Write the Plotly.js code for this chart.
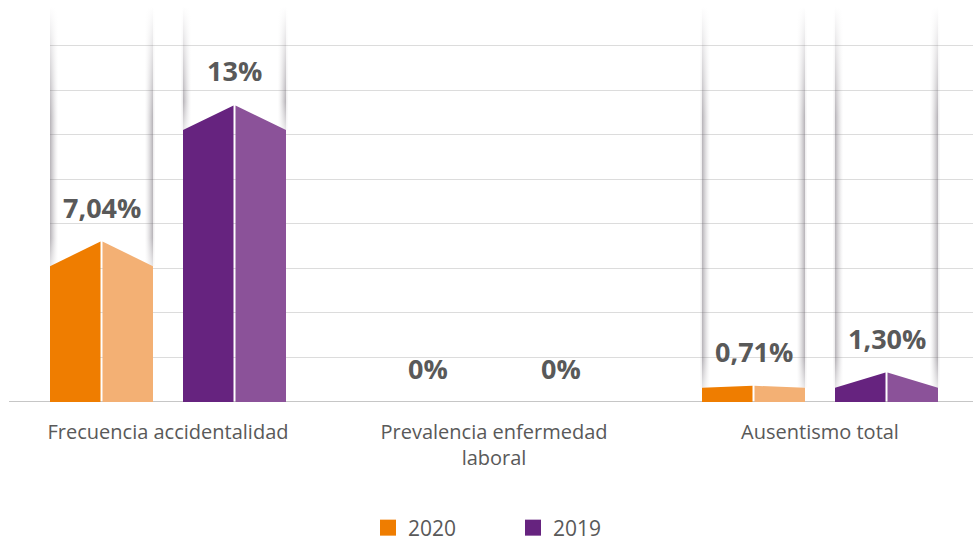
<!DOCTYPE html>
<html>
<head>
<meta charset="utf-8">
<script src="https://cdn.plot.ly/plotly-3.0.1.min.js"></script>
<style>
  html, body { margin: 0; padding: 0; background: #ffffff; }
  #chart { width: 973px; height: 543px; }
</style>
</head>
<body>
<div id="chart"></div>
<script>
// Indicator categories (x axis) and the two yearly series, in percent
const categories = ['Frecuencia accidentalidad', 'Prevalencia enfermedad<br>laboral', 'Ausentismo total'];
const values2020 = [7.04, 0, 0.71];
const values2019 = [13, 0, 1.30];
const labels2020 = ['7,04%', '0%', '0,71%'];
const labels2019 = ['13%', '0%', '1,30%'];
const seriesNames = ['2020', '2019'];

// ---- geometry / style ----
const W = 973, H = 543;
const M = { l: 50, r: 0, t: 2, b: 141, autoexpand: false };
const X_RANGE = [-0.36196, 2.46933];
const Y_RANGE = [0, 17.505];
const PLOT_W = W - M.l - M.r, PLOT_H = H - M.t - M.b;
const PX_X = PLOT_W / (X_RANGE[1] - X_RANGE[0]);   // pixels per x unit
const PX_Y = PLOT_H / (Y_RANGE[1] - Y_RANGE[0]);   // pixels per y unit
const ux = p => p / PX_X;
const uy = p => p / PX_Y;

const TEXT = '#595959';
const styles = [
  { dark: '#EF7D00', light: '#F3B074', offset: -66.5 },
  { dark: '#66237F', light: '#8B5299', offset: 66.5 }
];
const HALF_W = 51.5;    // px, half of a bar
const GAP = 1;          // px, half of the white split
const SHADOW_TOP = 17.3;

// bevelled top: how far the outer edge sits below the ridge
const capDrop = v => Math.min(uy(25), Math.max(0, v - 0.62));

const seriesValues = [values2020, values2019];
const seriesLabels = [labels2020, labels2019];

const traces = [];
const annotations = [];

function shade(a) { return 'rgba(105,98,108,' + a.toFixed(3) + ')'; }

seriesValues.forEach((vals, si) => {
  const st = styles[si];
  vals.forEach((v, ci) => {
    const c = ci + ux(st.offset);
    annotations.push({
      x: c, y: v, xref: 'x', yref: 'y', yshift: 34,
      text: '<b>' + seriesLabels[si][ci] + '</b>', showarrow: false,
      font: { family: 'Open Sans', size: 27, color: TEXT },
      xanchor: 'center', yanchor: 'middle'
    });
    if (v <= 0) return;
    const s = v - capDrop(v);
    const hw = ux(HALF_W), g = ux(GAP);
    const yIn = v - (v - s) * (g / hw);

    // soft column shadows running up from each outer edge
    [[c - hw, 1], [c + hw, -1]].forEach(([edge, dir]) => {
      for (let k = -2; k < 8; k++) {
        const f = k < 0 ? 0.35 * (k + 3) / 3 : Math.pow(1 - k / 8, 1.5);
        const a = 0.45 * f;
        const xa = edge + dir * ux(k), xb = edge + dir * ux(k + 1);
        const span = SHADOW_TOP - s;
        const fb = Math.min(0.45, uy(28) / span);
        const ft = Math.max(fb + 0.01, 1 - uy(110) / span);
        traces.push({
          type: 'scatter', mode: 'lines',
          x: [xa, xb, xb, xa, xa], y: [s, s, SHADOW_TOP, SHADOW_TOP, s],
          fill: 'toself', line: { width: 0 },
          fillgradient: {
            type: 'vertical', start: s, stop: SHADOW_TOP,
            colorscale: [[0, shade(a * 0.35)], [fb, shade(a)], [ft, shade(a)], [1, shade(0)]]
          },
          hoverinfo: 'skip', showlegend: false
        });
      }
    });

    // left (dark) and right (light) faces of the bar
    traces.push({
      type: 'scatter', mode: 'lines',
      x: [c - hw, c - hw, c - g, c - g, c - hw], y: [0, s, yIn, 0, 0],
      fill: 'toself', fillcolor: st.dark, line: { width: 0 },
      hoverinfo: 'skip', showlegend: false
    });
    traces.push({
      type: 'scatter', mode: 'lines',
      x: [c + g, c + g, c + hw, c + hw, c + g], y: [0, yIn, s, 0, 0],
      fill: 'toself', fillcolor: st.light, line: { width: 0 },
      hoverinfo: 'skip', showlegend: false
    });
  });
});

// legend entries
seriesNames.forEach((n, si) => {
  traces.push({
    type: 'scatter', mode: 'markers', name: n,
    x: [null], y: [null],
    marker: { symbol: 'square', size: 18, color: styles[si].dark, line: { width: 0 } }
  });
});

const layout = {
  width: W, height: H,
  margin: M,
  paper_bgcolor: '#ffffff', plot_bgcolor: '#ffffff',
  font: { family: 'Open Sans', color: TEXT },
  xaxis: {
    range: X_RANGE, fixedrange: true, automargin: false,
    tickvals: [0, 1, 2], ticktext: categories,
    tickfont: { family: 'Open Sans', size: 20, color: TEXT },
    ticks: '', ticklabelstandoff: 16,
    showgrid: false, zeroline: false, showline: false
  },
  yaxis: {
    range: Y_RANGE, fixedrange: true, automargin: false,
    tick0: 0, dtick: 1.95,
    showticklabels: false, ticks: '',
    showgrid: true, gridcolor: '#dcdcdc', gridwidth: 1,
    zeroline: false, showline: false
  },
  shapes: [{
    type: 'line', xref: 'paper', yref: 'y',
    x0: (9 - M.l) / PLOT_W, x1: 1, y0: 0, y1: 0,
    line: { color: '#c6c6c6', width: 2 }, layer: 'below'
  }],
  annotations: annotations,
  showlegend: true,
  legend: {
    orientation: 'h', xref: 'paper', yref: 'paper',
    x: (368 - M.l) / PLOT_W, xanchor: 'left',
    y: -(528 - (H - M.b)) / PLOT_H, yanchor: 'middle',
    entrywidth: 100, entrywidthmode: 'pixels',
    font: { family: 'Open Sans', size: 21, color: TEXT },
    bgcolor: 'rgba(0,0,0,0)'
  }
};

Plotly.newPlot('chart', traces, layout, { staticPlot: true, displayModeBar: false });
</script>
</body>
</html>
